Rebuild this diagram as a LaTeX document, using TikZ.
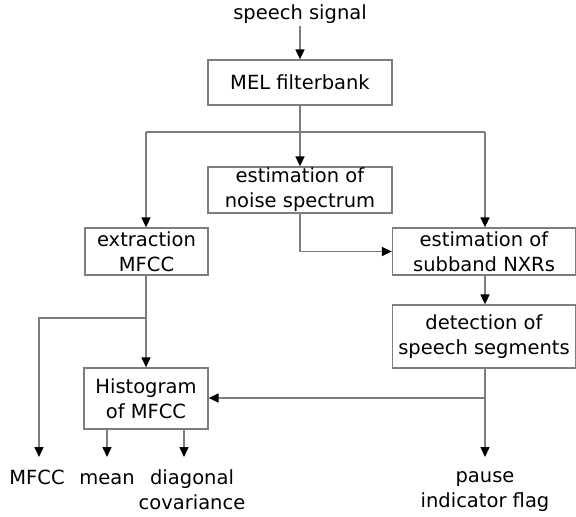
\documentclass[tikz,border=0pt]{standalone}
\usepackage{fontspec}
\setmainfont{DejaVu Sans}
\usetikzlibrary{arrows.meta}
\definecolor{linegray}{RGB}{125,125,125}
\begin{document}
\begin{tikzpicture}[x=1pt,y=-1pt,
  every node/.style={font=\fontsize{19.5}{25}\selectfont, text=black},
  box/.style={draw=linegray, line width=1.3pt, align=center, inner sep=0pt},
  lab/.style={align=center, inner sep=0pt, anchor=base},
  lab2/.style={align=center, inner sep=0pt, anchor=north},
  arr/.style={draw=linegray, line width=1.5pt, -{Triangle[width=9pt,length=10pt,color=black]}},
  ln/.style={draw=linegray, line width=1.5pt}]
\useasboundingbox (0,0) rectangle (576,517);
% nodes
\node[lab] (sig) at (300,19) {speech signal};
\coordinate (sigb) at (300,26);
\node[box, minimum width=184pt, minimum height=45pt] (mel) at (300,82.5) {MEL filterbank};
\node[box, minimum width=184pt, minimum height=46pt] (noise) at (300,190) {estimation of\\noise spectrum};
\node[box, minimum width=123pt, minimum height=47pt] (extr) at (146.5,251.5) {extraction\\MFCC};
\node[box, minimum width=183pt, minimum height=47pt] (sub) at (484,251.5) {estimation of\\subband NXRs};
\node[box, minimum width=183pt, minimum height=63pt] (det) at (484,336.5) {detection of\\speech segments};
\node[box, minimum width=124pt, minimum height=61pt] (hist) at (146,398.5) {Histogram\\of MFCC};
% output labels
\node[lab] (omfcc) at (37,484) {MFCC};
\node[lab] (omean) at (107,484) {mean};
\node[lab2] (odiag) at (192,469.5) {diagonal\\covariance};
\node[lab2] (opause) at (485,471) {pause\\indicator flag};
% coordinates
\coordinate (j1) at (300,132);
\coordinate (jl) at (146,132);
\coordinate (jr) at (485,132);
\coordinate (j3) at (146,318);
\coordinate (j4) at (39,318);
\coordinate (j5) at (485,398);
\coordinate (tmfcc) at (39,457);
\coordinate (tmean) at (107,457);
\coordinate (tdiag) at (184,457);
\coordinate (tpause) at (485,457);
% connectors
\draw[arr] (sigb) -- (mel.north);
\draw[ln] (mel.south) -- (j1);
\draw[arr] (j1) -- (noise.north);
\draw[ln] (jl) -- (jr);
\draw[arr] (jl) -- (extr.north -| jl);
\draw[arr] (jr) -- (sub.north -| jr);
\draw[arr] (noise.south) |- (sub.west);
\draw[arr] (sub.south -| jr) -- (det.north -| jr);
\draw[ln] (det.south -| jr) -- (j5);
\draw[arr] (j5) -- (tpause);
\draw[arr] (j5) -- (hist.east |- j5);
\draw[ln] (extr.south -| j3) -- (j3);
\draw[arr] (j3) -- (hist.north -| j3);
\draw[arr] (j3) -- (j4) -- (tmfcc);
\draw[arr] (hist.south -| tmean) -- (tmean);
\draw[arr] (hist.south -| tdiag) -- (tdiag);
\end{tikzpicture}
\end{document}
